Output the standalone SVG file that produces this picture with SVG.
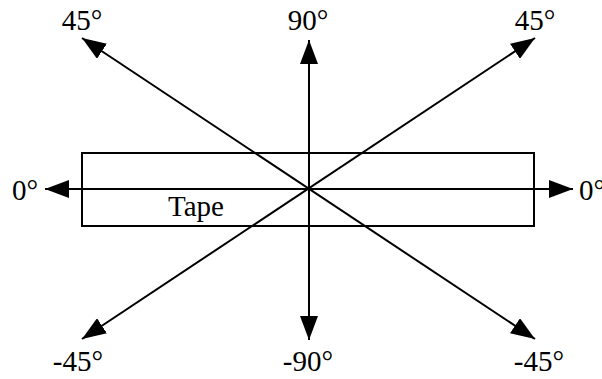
<svg xmlns="http://www.w3.org/2000/svg" width="602" height="379" viewBox="0 0 602 379">
<style>
.ln{stroke:#000;stroke-width:2;fill:none}
.ar{marker-start:url(#ah);marker-end:url(#ah)}
text{font-family:"Liberation Serif","Times New Roman",serif;font-size:29px;fill:#000}
</style>
<defs>
<marker id="ah" markerUnits="userSpaceOnUse" markerWidth="24" markerHeight="18" refX="24" refY="9" orient="auto-start-reverse" viewBox="0 0 24 18">
<path d="M0,0 L24,9 L0,18 z" fill="#000"/>
</marker>
</defs>
<rect width="602" height="379" fill="#fff"/>
<g id="tape">
<rect class="ln" x="82" y="153" width="452" height="73"/>
<text x="196" y="216" text-anchor="middle">Tape</text>
</g>
<g id="connectors">
<line class="ln ar" x1="45" y1="189" x2="573" y2="189"/>
<line class="ln ar" x1="309" y1="40" x2="309" y2="340"/>
<line class="ln ar" x1="82" y1="38" x2="535" y2="339"/>
<line class="ln ar" x1="535" y1="38" x2="82" y2="339"/>
</g>
<g id="labels">
<text x="82" y="30" text-anchor="middle">45°</text>
<text x="308" y="30" text-anchor="middle">90°</text>
<text x="535" y="30" text-anchor="middle">45°</text>
<text x="25" y="200" text-anchor="middle">0°</text>
<text x="579" y="200">0°</text>
<text x="78" y="371" text-anchor="middle">-45°</text>
<text x="308" y="371" text-anchor="middle">-90°</text>
<text x="539" y="371" text-anchor="middle">-45°</text>
</g>
</svg>
